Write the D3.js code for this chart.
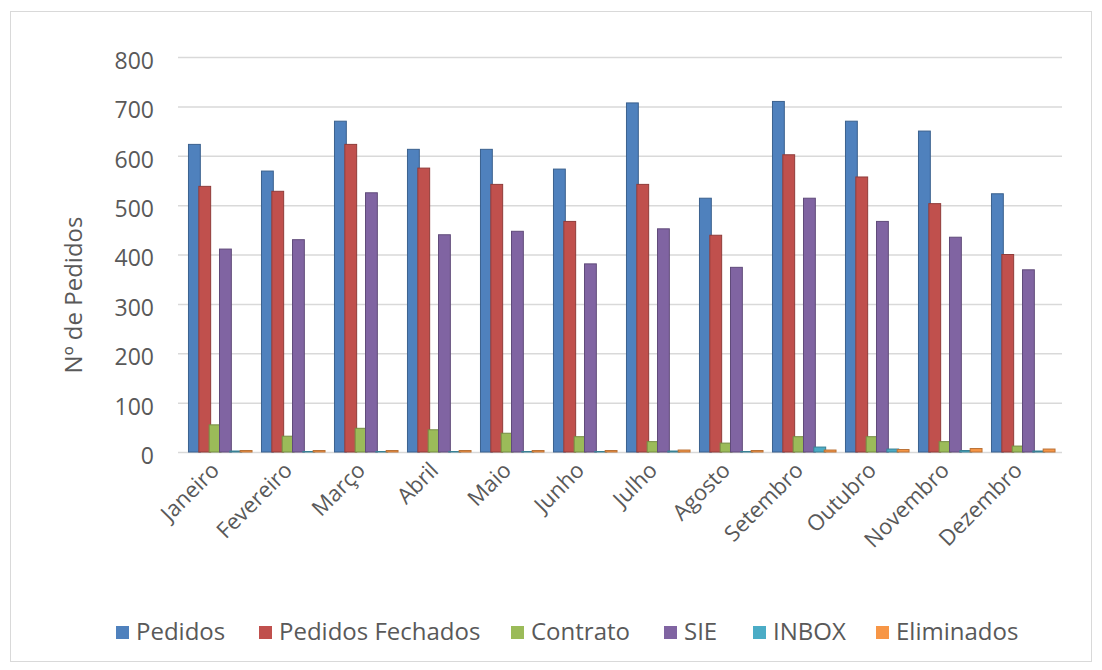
<!DOCTYPE html>
<html>
<head>
<meta charset="utf-8">
<script src="https://cdn.jsdelivr.net/npm/d3@7"></script>
<style>
  body { margin: 0; background: #fff; }
  svg text { font-family: "Open Sans", sans-serif; fill: #595959; }
</style>
</head>
<body>
<div id="chart"></div>
<script>
var months = ["Janeiro", "Fevereiro", "Março", "Abril", "Maio", "Junho", "Julho", "Agosto", "Setembro", "Outubro", "Novembro", "Dezembro"];
var seriesNames = ["Pedidos", "Pedidos Fechados", "Contrato", "SIE", "INBOX", "Eliminados"];
var pedidos = [623, 569, 670, 613, 613, 573, 707, 514, 710, 670, 650, 523];
var pedidosFechados = [538, 528, 623, 575, 542, 467, 542, 439, 602, 557, 503, 400];
var contrato = [55, 32, 48, 45, 38, 31, 21, 18, 31, 31, 21, 12];
var sie = [411, 430, 525, 440, 447, 381, 452, 374, 514, 467, 435, 369];
var inbox = [2, 1, 1, 1, 1, 1, 2, 1, 10, 6, 3, 2];
var eliminados = [3, 3, 3, 3, 3, 3, 4, 3, 4, 5, 7, 6];
var yTicks = [0, 100, 200, 300, 400, 500, 600, 700, 800];
var colors = ["#4F81BD", "#C0504D", "#9BBB59", "#8064A2", "#4BACC6", "#F79646"];

var allSeries = [pedidos, pedidosFechados, contrato, sie, inbox, eliminados];

var width = 1102, height = 670;
var svg = d3.select("#chart").append("svg").attr("width", width).attr("height", height);

// outer frame
svg.append("rect")
    .attr("x", 10.5).attr("y", 11.5)
    .attr("width", 1081).attr("height", 650)
    .attr("fill", "#fff")
    .attr("stroke", "#d9d9d9");

var x0 = d3.scaleBand().domain(months).range([183, 1059]).paddingInner(0.15).paddingOuter(0.075);
var x1 = d3.scaleBand().domain(seriesNames).range([0, x0.bandwidth()]);
var y = d3.scaleLinear().domain([0, 800]).range([452, 57]);

// gridlines (back wall)
svg.append("g")
    .selectAll("line")
    .data(yTicks)
    .join("line")
    .attr("x1", 178).attr("x2", 1062)
    .attr("y1", function (d) { return y(d) + 0.5; })
    .attr("y2", function (d) { return y(d) + 0.5; })
    .attr("stroke", "#d9d9d9")
    .attr("stroke-width", 1.5);

// y axis labels, a bit lower than the wall gridlines
var yAxis = d3.axisLeft(y).tickValues(yTicks).tickSize(0).tickPadding(0);
var yg = svg.append("g").attr("transform", "translate(154,4)").call(yAxis);
yg.select(".domain").remove();
yg.selectAll("text").style("font-size", "23px").attr("fill", "#595959");

// bars
var groups = svg.append("g")
    .selectAll("g")
    .data(months)
    .join("g")
    .attr("transform", function (d) { return "translate(" + x0(d) + ",0)"; });

groups.selectAll("rect")
    .data(function (m, i) {
        return seriesNames.map(function (s, j) { return { s: s, j: j, v: allSeries[j][i] }; });
    })
    .join("rect")
    .attr("x", function (d) { return x1(d.s); })
    .attr("y", function (d) { return y(d.v); })
    .attr("width", x1.bandwidth() + 1.5)
    .attr("height", function (d) { return y(0) - y(d.v); })
    .attr("fill", function (d) { return colors[d.j]; })
    .attr("stroke", function (d) { return d3.color(colors[d.j]).darker(0.8); })
    .attr("stroke-width", 1);

// x labels
var xAxis = d3.axisBottom(x0).tickSize(0);
var xg = svg.append("g").attr("transform", "translate(0,462)").call(xAxis);
xg.select(".domain").remove();
xg.selectAll("text")
    .style("font-size", "22px")
    .style("text-anchor", "end")
    .attr("x", -6)
    .attr("y", 0)
    .attr("dy", "0.35em")
    .attr("transform", "rotate(-45)");

// y title
svg.append("text")
    .attr("transform", "translate(82,295) rotate(-90)")
    .attr("text-anchor", "middle")
    .style("font-size", "24px")
    .text("Nº de Pedidos");

// legend
var legendX = [115, 258, 510, 663, 752, 875];
var legend = svg.append("g")
    .selectAll("g")
    .data(seriesNames)
    .join("g")
    .attr("transform", function (d, i) { return "translate(" + legendX[i] + ",632)"; });

legend.append("rect")
    .attr("x", 1).attr("y", -6)
    .attr("width", 13).attr("height", 13)
    .attr("fill", function (d, i) { return colors[i]; });

legend.append("text")
    .attr("x", 21)
    .attr("dy", "0.35em")
    .style("font-size", "24px")
    .text(function (d) { return d; });
</script>
</body>
</html>
